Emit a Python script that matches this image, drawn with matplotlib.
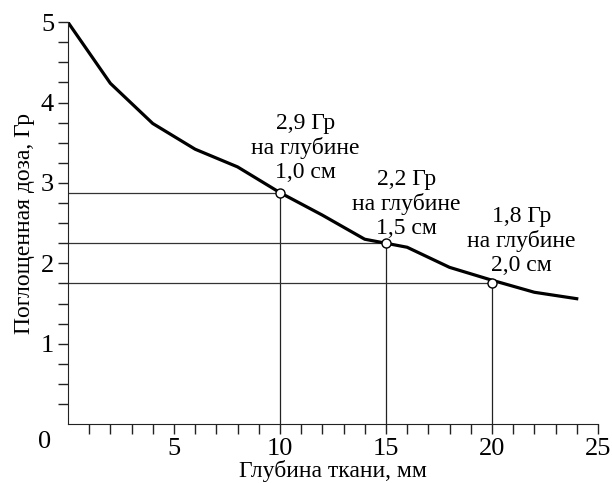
import numpy as np
import matplotlib.pyplot as plt

plt.rcParams['font.family'] = ['Liberation Serif', 'DejaVu Serif']

# curve
depth = [0, 2, 4, 6, 8, 10, 12, 14, 16, 18, 20, 22, 24]
dose = [5.0, 4.24, 3.74, 3.42, 3.2, 2.88, 2.6, 2.3, 2.2, 1.95, 1.79, 1.64, 1.56]

# marked points
mark_x = [10, 15, 20]
mark_y = [2.88, 2.25, 1.76]
mark_text = ['2,9 Гр\nна глубине\n1,0 см',
             '2,2 Гр\nна глубине\n1,5 см',
             '1,8 Гр\nна глубине\n2,0 см']
text_x = [11.2, 15.95, 21.4]
text_y = [3.06, 2.36, 1.9]

fig = plt.figure(figsize=(6.12, 4.83), dpi=100)
ax = fig.add_axes([0.111, 0.122, 0.866, 0.832])

# guide lines
for mx, my in zip(mark_x, mark_y):
    ax.plot([0, mx], [my, my], color='#333333', lw=0.9, zorder=1)
    ax.plot([mx, mx], [0, my], color='#222222', lw=0.9, zorder=1)

ax.plot(depth, dose, color='black', lw=2.3, zorder=2, solid_joinstyle='round')
ax.plot(mark_x, mark_y, 'o', ms=6.5, mfc='white', mec='black', mew=1.0, zorder=3)

for tx, ty, s in zip(text_x, text_y, mark_text):
    ax.text(tx, ty, s, ha='center', va='baseline', fontsize=17, linespacing=1.2)

ax.set_xlim(0, 25)
ax.set_ylim(0, 5)
ax.spines['top'].set_visible(False)
ax.spines['right'].set_visible(False)
ax.spines['left'].set_color('#222222')
ax.spines['bottom'].set_color('#222222')

ax.set_xticks(np.arange(1, 26))
ax.set_xticklabels([str(v) if v % 5 == 0 else '' for v in range(1, 26)])
ax.set_yticks(np.arange(0.25, 5.01, 0.25))
ax.set_yticklabels([str(int(v)) if v == int(v) else '' for v in np.arange(0.25, 5.01, 0.25)])
ax.tick_params(direction='out', length=7, width=1, color='#222222', labelsize=19, pad=3)
ax.text(-1.1, -0.22, '0', ha='center', va='center', fontsize=19, clip_on=False)

ax.set_xlabel('Глубина ткани, мм', fontsize=17, labelpad=0)
ax.set_ylabel('Поглощенная доза, Гр', fontsize=17, labelpad=4)

fig.savefig('out.png', dpi=100)
